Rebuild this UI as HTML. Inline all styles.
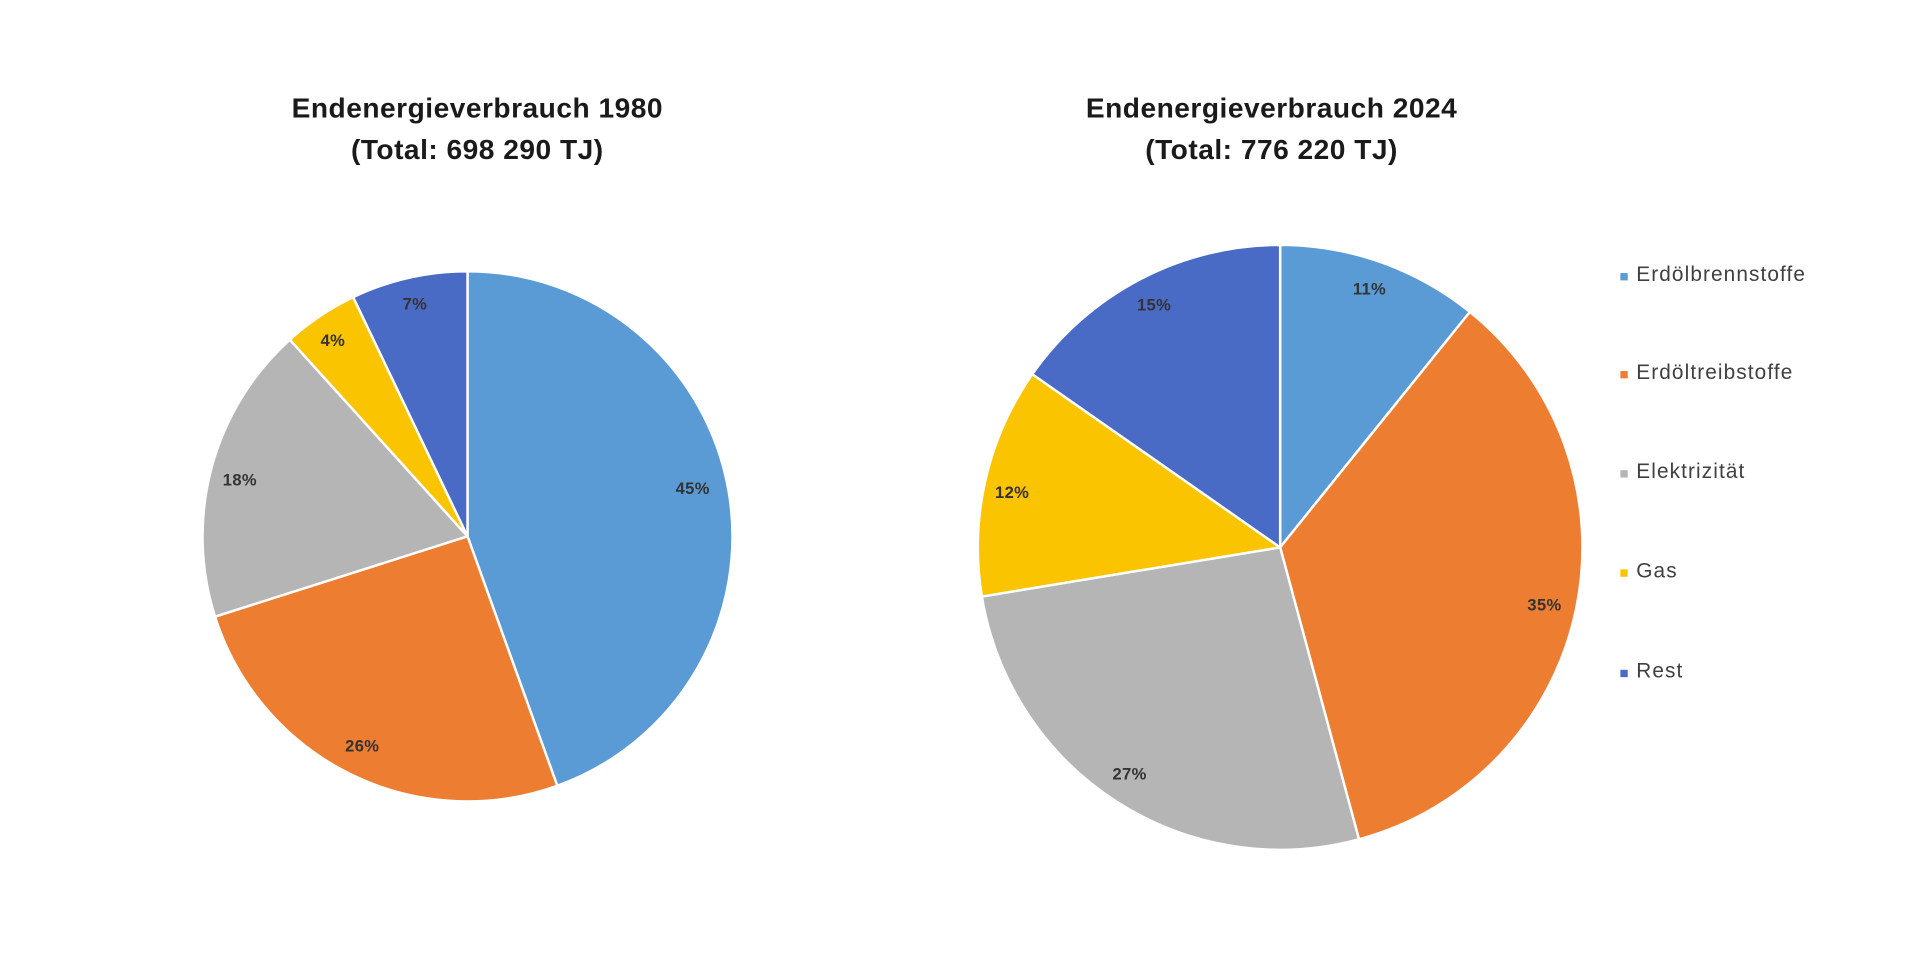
<!DOCTYPE html>
<html><head><meta charset="utf-8"><style>
html,body{margin:0;padding:0;background:#fff;overflow:hidden}
svg{display:block}
.t{font-family:"Liberation Sans",sans-serif;font-weight:bold;font-size:23px;letter-spacing:0.4px;fill:#1a1a1a;text-anchor:middle}
.l{font-family:"Liberation Sans",sans-serif;font-weight:bold;font-size:13.5px;letter-spacing:0.3px;fill:#333;text-anchor:middle;dominant-baseline:middle}
.g{font-family:"Liberation Sans",sans-serif;font-size:17px;letter-spacing:0.9px;fill:#404040;dominant-baseline:middle}
</style></head><body>
<svg id="s" width="1919" height="960" viewBox="0 0 1568 784" preserveAspectRatio="none" xmlns="http://www.w3.org/2000/svg">
<g id="p"></g>
<text class="t" x="390" y="96">Endenergieverbrauch 1980</text>
<text class="t" x="390" y="130">(Total: 698 290 TJ)</text>
<text class="t" x="1039" y="96">Endenergieverbrauch 2024</text>
<text class="t" x="1039" y="130">(Total: 776 220 TJ)</text>
<text class="l" x="566" y="400">45%</text>
<text class="l" x="296" y="610">26%</text>
<text class="l" x="196" y="393">18%</text>
<text class="l" x="272" y="279">4%</text>
<text class="l" x="339" y="249">7%</text>
<text class="l" x="1119" y="237">11%</text>
<text class="l" x="1262" y="495">35%</text>
<text class="l" x="923" y="633">27%</text>
<text class="l" x="827" y="403">12%</text>
<text class="l" x="943" y="250">15%</text>
<rect x="1324" y="223" width="6" height="6" fill="#5B9BD5"/><text class="g" x="1337" y="225">Erdölbrennstoffe</text>
<rect x="1324" y="303" width="6" height="6" fill="#ED7D31"/><text class="g" x="1337" y="305">Erdöltreibstoffe</text>
<rect x="1324" y="384" width="6" height="6" fill="#B5B5B5"/><text class="g" x="1337" y="386">Elektrizität</text>
<rect x="1324" y="465" width="6" height="6" fill="#FAC400"/><text class="g" x="1337" y="467">Gas</text>
<rect x="1324" y="547" width="6" height="6" fill="#4A6BC5"/><text class="g" x="1337" y="549">Rest</text>
</svg>
<script>
var cols=["#5B9BD5","#ED7D31","#B5B5B5","#FAC400","#4A6BC5"];
function pie(cx,cy,r,vals){var a=0,h="";for(var i=0;i<vals.length;i++){var a0=a*2*Math.PI/100,a1=(a+vals[i])*2*Math.PI/100;a+=vals[i];
var x0=cx+r*Math.sin(a0),y0=cy-r*Math.cos(a0),x1=cx+r*Math.sin(a1),y1=cy-r*Math.cos(a1);
h+='<path d="M'+cx+','+cy+'L'+x0+','+y0+'A'+r+','+r+' 0 '+(vals[i]>50?1:0)+' 1 '+x1+','+y1+'Z" fill="'+cols[i]+'" stroke="#fff" stroke-width="2" stroke-linejoin="round"/>';}return h;}
document.getElementById("p").innerHTML=pie(382,438,216.5,[44.5,25.6,18.2,4.6,7.1])+pie(1046,447,247,[10.8,35.0,26.6,12.3,15.3]);
</script>
</body></html>
